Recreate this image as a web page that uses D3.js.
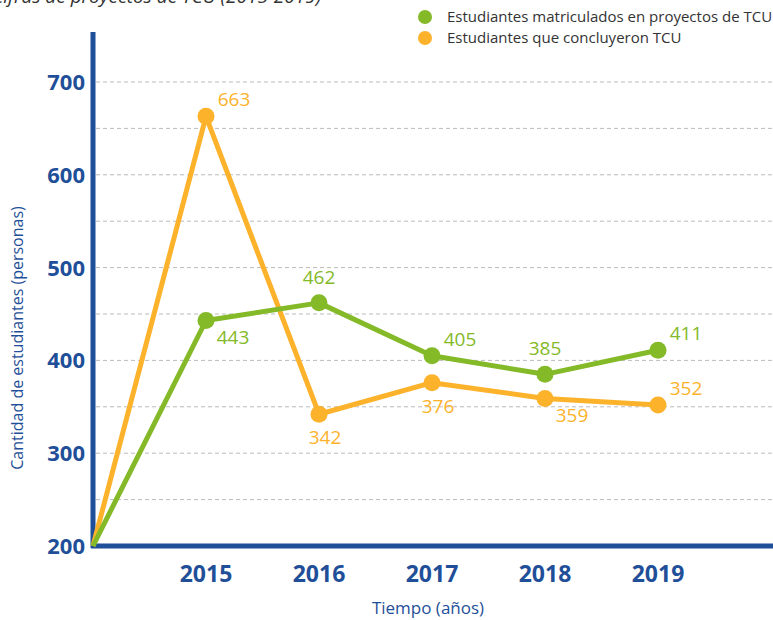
<!DOCTYPE html>
<html>
<head>
<meta charset="utf-8">
<script src="https://cdn.jsdelivr.net/npm/d3@7"></script>
<style>
  body { margin: 0; background: #fff; }
  svg { display: block; font-family: "Open Sans", "Noto Sans", sans-serif; }
</style>
</head>
<body>
<div id="chart"></div>
<script>
// datos
const years = [2015, 2016, 2017, 2018, 2019];
const matriculados = [443, 462, 405, 385, 411];
const concluyeron = [663, 342, 376, 359, 352];
const yTicks = [200, 300, 400, 500, 600, 700];
const seriesNames = ['Estudiantes matriculados en proyectos de TCU', 'Estudiantes que concluyeron TCU'];
// posicion de etiquetas (n = arriba, s = abajo, e = derecha)
const labelsMat = ['se', 'n', 'ne', 'n', 'ne'];
const labelsCon = ['ne', 's', 's', 'se', 'ne'];

const width = 773, height = 620;
const blue = '#1f4f98', green = '#84b928', orange = '#fdb22b';

const svg = d3.select('#chart').append('svg')
    .attr('width', width)
    .attr('height', height);

// titulo (recortado arriba, como en el original)
svg.append('text')
    .attr('x', -8).attr('y', 3)
    .attr('font-size', 19)
    .attr('font-style', 'italic')
    .attr('fill', '#333')
    .text('Cifras de proyectos de TCU (2015-2019)');

// escalas
const x = d3.scaleLinear().domain([2014, 2019]).range([93, 658]);
const y = d3.scaleLinear().domain([200, 700]).range([546, 82]);

// lineas de cuadricula
svg.append('g')
    .selectAll('line')
    .data(d3.range(250, 701, 50))
    .join('line')
    .attr('x1', 96).attr('x2', width)
    .attr('y1', d => y(d)).attr('y2', d => y(d))
    .attr('stroke', '#bbb')
    .attr('stroke-width', 1)
    .attr('stroke-dasharray', '4,3');

// ejes
svg.append('line')
    .attr('x1', 93).attr('x2', 93)
    .attr('y1', 32).attr('y2', 548)
    .attr('stroke', blue).attr('stroke-width', 5);
svg.append('line')
    .attr('x1', 91).attr('x2', width)
    .attr('y1', 546).attr('y2', 546)
    .attr('stroke', blue).attr('stroke-width', 5);

svg.append('g')
    .selectAll('text')
    .data(yTicks)
    .join('text')
    .attr('x', 85)
    .attr('y', d => y(d))
    .attr('dy', '0.36em')
    .attr('text-anchor', 'end')
    .attr('font-size', 22)
    .attr('font-weight', 'bold')
    .attr('fill', blue)
    .text(d => d);

svg.append('g')
    .selectAll('text')
    .data(years)
    .join('text')
    .attr('x', d => x(d))
    .attr('y', 582)
    .attr('text-anchor', 'middle')
    .attr('font-size', 23)
    .attr('font-weight', 'bold')
    .attr('fill', blue)
    .text(d => d);

svg.append('text')
    .attr('transform', 'translate(23,338) rotate(-90)')
    .attr('text-anchor', 'middle')
    .attr('font-size', 16)
    .attr('fill', blue)
    .text('Cantidad de estudiantes (personas)');

svg.append('text')
    .attr('x', 428).attr('y', 614)
    .attr('text-anchor', 'middle')
    .attr('font-size', 17)
    .attr('fill', blue)
    .text('Tiempo (años)');

// series
const series = [
    { values: matriculados, color: green, labels: labelsMat },
    { values: concluyeron, color: orange, labels: labelsCon }
];

const line = d3.line().x(d => x(d[0])).y(d => y(d[1]));
const offsets = { n: [0, -19], s: [6, 30], ne: [28, -10], se: [27, 24] };

series.slice().reverse().forEach(s => {
    const pts = [[2014, 200]].concat(years.map((yr, i) => [yr, s.values[i]]));
    svg.append('path')
        .datum(pts)
        .attr('d', line)
        .attr('fill', 'none')
        .attr('stroke', s.color)
        .attr('stroke-width', 5)
        .attr('stroke-linejoin', 'round');
});

series.forEach(s => {
    const g = svg.append('g');
    g.selectAll('circle')
        .data(years)
        .join('circle')
        .attr('cx', d => x(d))
        .attr('cy', (d, i) => y(s.values[i]))
        .attr('r', 8.5)
        .attr('fill', s.color);
    g.selectAll('text')
        .data(years)
        .join('text')
        .attr('x', (d, i) => x(d) + offsets[s.labels[i]][0])
        .attr('y', (d, i) => y(s.values[i]) + offsets[s.labels[i]][1])
        .attr('text-anchor', 'middle')
        .attr('font-size', 19)
        .attr('fill', s.color)
        .text((d, i) => s.values[i]);
});

// leyenda
const legend = svg.append('g');
legend.selectAll('g')
    .data(seriesNames)
    .join('g')
    .attr('transform', (d, i) => `translate(425,${17 + i * 21})`)
    .each(function(d, i) {
        const item = d3.select(this);
        item.append('circle').attr('r', 7).attr('fill', series[i].color);
        item.append('text')
            .attr('x', 22).attr('dy', '0.35em')
            .attr('font-size', 15)
            .attr('fill', '#333')
            .text(d);
    });
</script>
</body>
</html>
